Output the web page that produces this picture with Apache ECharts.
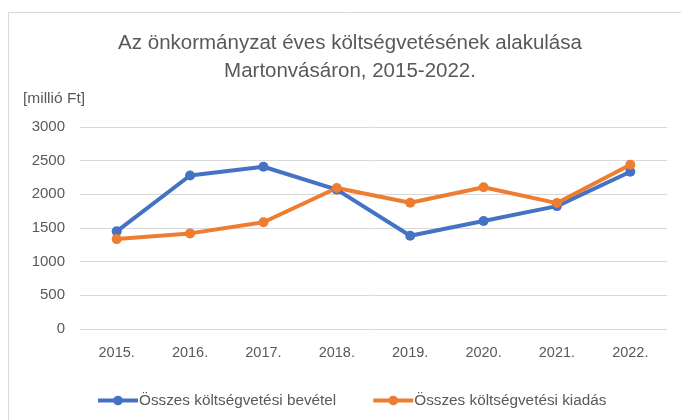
<!DOCTYPE html>
<html>
<head>
<meta charset="utf-8">
<script src="https://cdn.jsdelivr.net/npm/echarts@6/dist/echarts.min.js"></script>
<style>
    html, body { margin: 0; padding: 0; background: #fff; }
    #main { width: 681px; height: 420px; }
</style>
</head>
<body>
<div id="main"></div>
<script>
// évek és értékek (millió Ft)
const years = ['2015.', '2016.', '2017.', '2018.', '2019.', '2020.', '2021.', '2022.']
const bevetel = [1450, 2280, 2410, 2070, 1385, 1605, 1825, 2335]
const kiadas = [1335, 1420, 1585, 2095, 1875, 2105, 1870, 2440]
const yTicks = [0, 500, 1000, 1500, 2000, 2500, 3000]

const textColor = '#595959'
const font = 'Liberation Sans'

const chart = echarts.init(document.getElementById('main'))
chart.setOption({
    animation: false,
    color: ['#4472C4', '#ED7D31'],
    graphic: [
        {
            type: 'rect',
            shape: { x: 8.5, y: 12.5, width: 700, height: 450 },
            style: { fill: 'none', stroke: '#d9d9d9', lineWidth: 1 },
        },
        {
            type: 'text',
            left: 23,
            top: 91,
            style: { text: '[millió Ft]', fill: textColor, font: '15.5px ' + font },
        },
    ],
    title: {
        text: 'Az önkormányzat éves költségvetésének alakulása\nMartonvásáron, 2015-2022.',
        left: 345,
        top: 24,
        textAlign: 'center',
        textStyle: {
            color: textColor,
            fontFamily: font,
            fontWeight: 'normal',
            fontSize: 20.5,
            lineHeight: 28,
        },
    },
    legend: {
        top: 388,
        left: 91,
        itemWidth: 40,
        itemHeight: 12,
        itemGap: 35,
        lineStyle: { width: 4 },
        textStyle: { color: textColor, fontFamily: font, fontSize: 15.3, padding: [0, 0, 0, -4] },
        data: ['Összes költségvetési bevétel', 'Összes költségvetési kiadás'],
    },
    grid: {
        left: 80,
        right: 14,
        top: 127,
        bottom: 91,
        containLabel: false,
    },
    xAxis: {
        type: 'category',
        data: years,
        axisLine: { show: false },
        axisTick: { show: false },
        axisLabel: { color: textColor, fontFamily: font, fontSize: 14.5, margin: 16 },
    },
    yAxis: {
        type: 'value',
        min: yTicks[0],
        max: yTicks[yTicks.length - 1],
        interval: 500,
        axisLine: { show: false },
        axisTick: { show: false },
        axisLabel: { color: textColor, fontFamily: font, fontSize: 15, margin: 15, formatter: (v) => String(v) },
        splitLine: { lineStyle: { color: '#d9d9d9', width: 1 } },
    },
    series: [
        {
            name: 'Összes költségvetési bevétel',
            type: 'line',
            data: bevetel,
            symbol: 'circle',
            symbolSize: 10,
            lineStyle: { width: 4 },
        },
        {
            name: 'Összes költségvetési kiadás',
            type: 'line',
            data: kiadas,
            symbol: 'circle',
            symbolSize: 10,
            lineStyle: { width: 4 },
        },
    ],
})
</script>
</body>
</html>
